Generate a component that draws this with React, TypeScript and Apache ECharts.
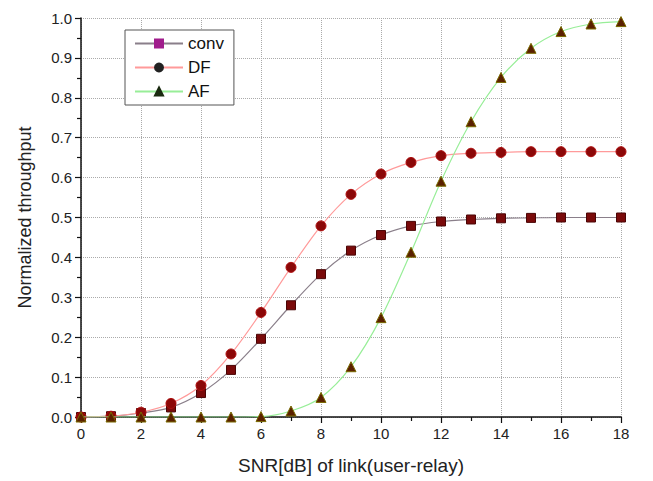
import React, { useEffect, useRef } from "react";
import * as echarts from "echarts";

const snr = [0, 1, 2, 3, 4, 5, 6, 7, 8, 9, 10, 11, 12, 13, 14, 15, 16, 17, 18];
const convValues = [0, 0.002, 0.01, 0.024, 0.06, 0.118, 0.196, 0.28, 0.358, 0.417, 0.456, 0.479, 0.49, 0.495, 0.498, 0.499, 0.5, 0.5, 0.5];
const dfValues = [0, 0.002, 0.012, 0.034, 0.079, 0.158, 0.262, 0.375, 0.479, 0.558, 0.609, 0.638, 0.655, 0.661, 0.663, 0.665, 0.665, 0.665, 0.665];
const afValues = [0, 0, 0, 0, 0, 0, 0.001, 0.015, 0.049, 0.126, 0.249, 0.413, 0.591, 0.74, 0.851, 0.924, 0.966, 0.985, 0.991];
const seriesNames = ["conv", "DF", "AF"];

const pair = (vals: number[]) => snr.map((x, i) => [x, vals[i]]);

export default function App() {
  const ref = useRef<HTMLDivElement>(null);
  useEffect(() => {
    if (!ref.current) return;
    const chart = echarts.init(ref.current, null, { renderer: "svg" });
    const font = "Liberation Sans, Arial, sans-serif";
    chart.setOption({
      animation: false,
      backgroundColor: "#fff",
      grid: { left: 81, right: 32, top: 18, bottom: 64, containLabel: false },
      legend: {
        orient: "vertical",
        left: 125,
        top: 30,
        backgroundColor: "#fff",
        borderColor: "#555",
        borderWidth: 1,
        padding: [5, 10, 5, 9],
        itemGap: 7,
        itemWidth: 48,
        itemHeight: 10,
        textStyle: { fontFamily: font, fontSize: 17, color: "#111" },
        data: [
          { name: "conv", itemStyle: { color: "#a01c8c", borderColor: "#a01c8c" }, lineStyle: { color: "#8a7f8a" } },
          { name: "DF", itemStyle: { color: "#222", borderColor: "#222" }, lineStyle: { color: "#ff9a9a" } },
          { name: "AF", itemStyle: { color: "#1a2a10", borderColor: "#1a2a10" }, lineStyle: { color: "#98ee98" } },
        ],
      },
      xAxis: {
        type: "value",
        min: 0,
        max: 18,
        interval: 2,
        name: "SNR[dB] of link(user-relay)",
        nameLocation: "middle",
        nameGap: 39,
        nameTextStyle: { fontFamily: font, fontSize: 19, color: "#222" },
        axisLine: { show: true, onZero: false, lineStyle: { color: "#111", width: 1.5 } },
        axisTick: { show: true, length: 6, lineStyle: { color: "#111", width: 1.2 } },
        minorTick: { show: true, splitNumber: 2, length: 4, lineStyle: { color: "#111", width: 1.2 } },
        axisLabel: { fontFamily: font, fontSize: 15, color: "#222", margin: 9 },
        splitLine: { show: true, lineStyle: { color: "#aaa", type: "dotted", width: 1 } },
      },
      yAxis: {
        type: "value",
        min: 0,
        max: 1,
        interval: 0.1,
        name: "Normalized throughput",
        nameLocation: "middle",
        nameGap: 47,
        nameTextStyle: { fontFamily: font, fontSize: 18, color: "#222" },
        axisLine: { show: true, lineStyle: { color: "#111", width: 1.5 } },
        axisTick: { show: true, length: 6, lineStyle: { color: "#111", width: 1.2 } },
        minorTick: { show: true, splitNumber: 2, length: 4, lineStyle: { color: "#111", width: 1.2 } },
        axisLabel: {
          fontFamily: font,
          fontSize: 15,
          color: "#222",
          margin: 9,
          formatter: (v: number) => v.toFixed(1),
        },
        splitLine: { show: true, lineStyle: { color: "#aaa", type: "dotted", width: 1 } },
      },
      series: [
        {
          name: seriesNames[0],
          type: "line",
          smooth: 0.3,
          data: pair(convValues),
          symbol: "rect",
          symbolSize: 9,
          lineStyle: { color: "#8a7f8a", width: 1.2 },
          itemStyle: { color: "#7a0a0a", borderColor: "#4a0505", borderWidth: 1 },
          z: 3,
        },
        {
          name: seriesNames[1],
          type: "line",
          smooth: 0.3,
          data: pair(dfValues),
          symbol: "circle",
          symbolSize: 10,
          lineStyle: { color: "#ff9a9a", width: 1.2 },
          itemStyle: { color: "#8b0808", borderColor: "#b01010", borderWidth: 1 },
          z: 4,
        },
        {
          name: seriesNames[2],
          type: "line",
          smooth: 0.3,
          data: pair(afValues),
          symbol: "triangle",
          symbolSize: 10,
          lineStyle: { color: "#98ee98", width: 1.2 },
          itemStyle: { color: "#5a2000", borderColor: "#7a6a00", borderWidth: 1 },
          z: 5,
        },
      ],
    });
    return () => chart.dispose();
  }, []);
  return <div ref={ref} style={{ width: 653, height: 481, position: "absolute", left: 0, top: 0 }} />;
}
